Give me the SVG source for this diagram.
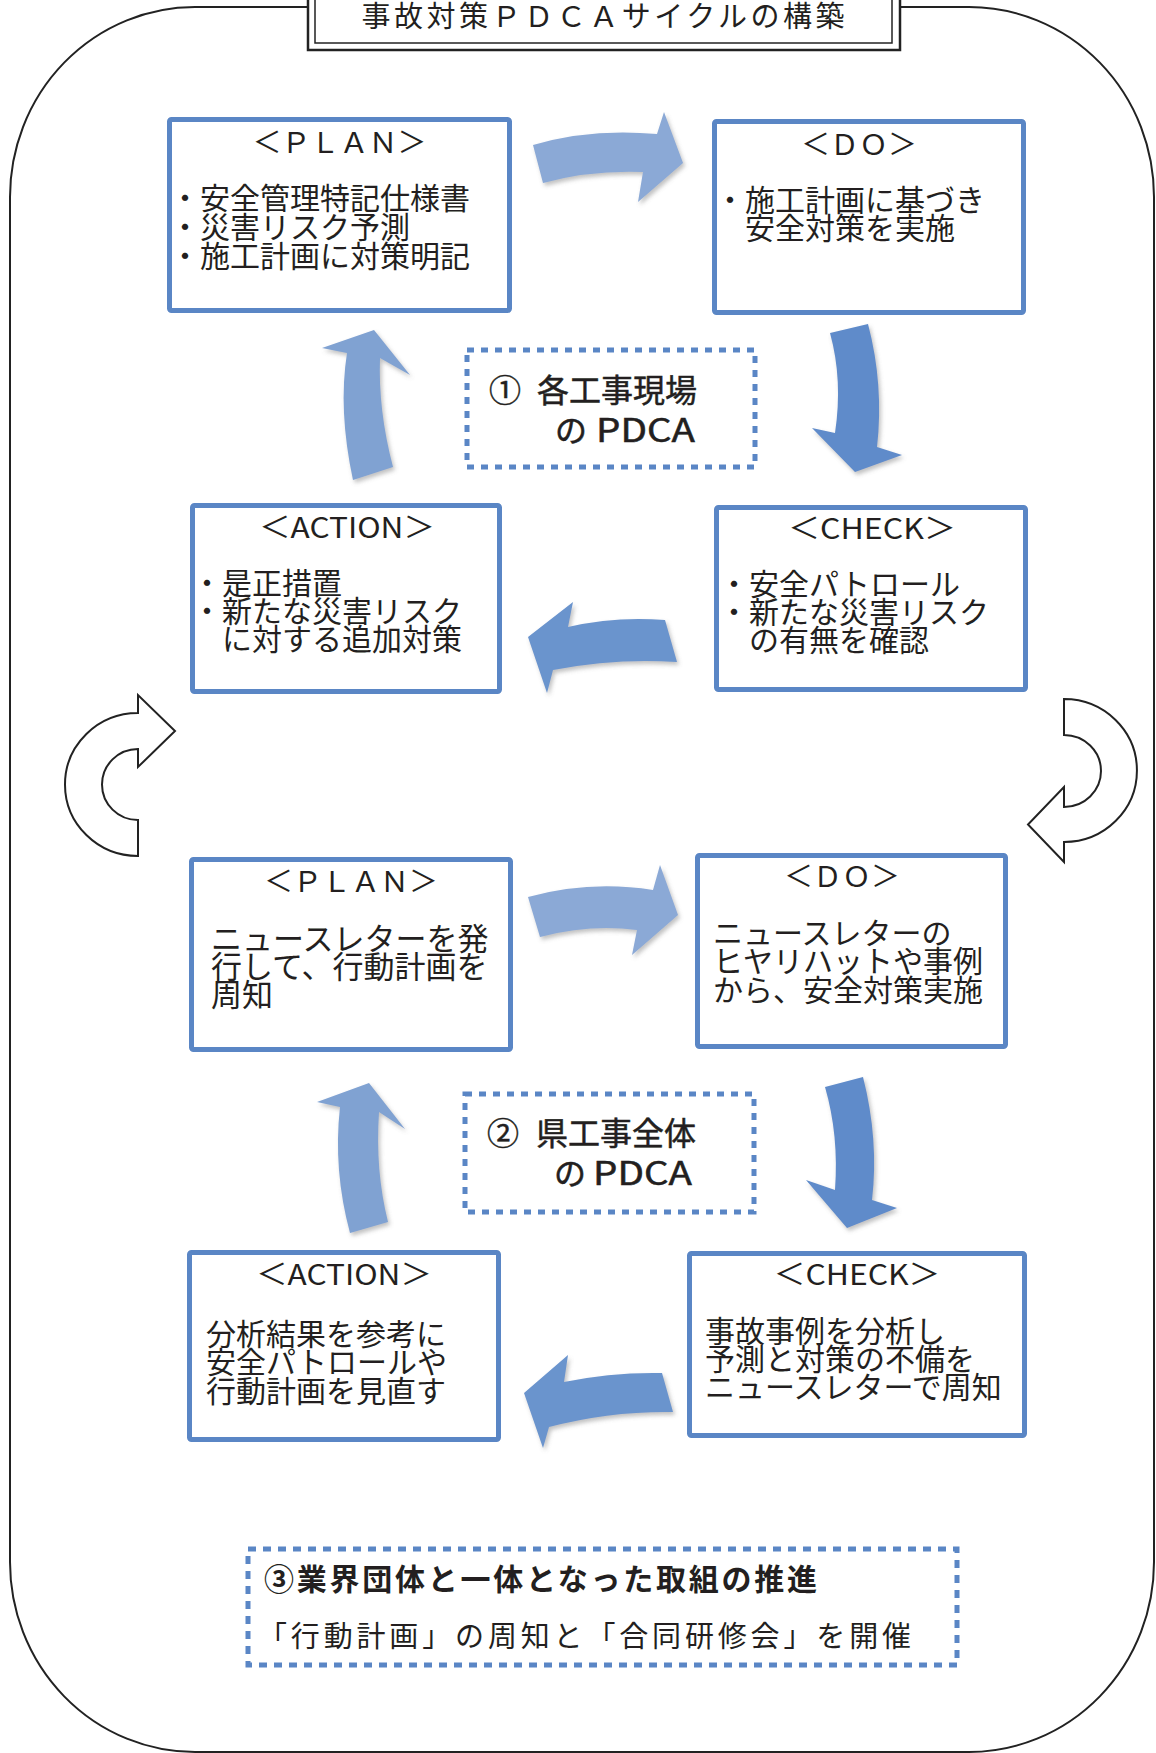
<svg xmlns="http://www.w3.org/2000/svg" width="1156" height="1753" viewBox="0 0 1156 1753">
<defs>
<style>
.box{fill:#fff;stroke:#5a86c5;stroke-width:5}
.dot{fill:none;stroke:#5a86c5;stroke-width:5;stroke-dasharray:7 7}
.dot3{fill:none;stroke:#5a86c5;stroke-width:5;stroke-dasharray:8 7}
.t{font-family:"Noto Sans CJK JP","Noto Sans CJK SC",sans-serif;fill:#231f20}
.h{font-size:29px;text-anchor:middle}
.b{font-size:30px}
.lbl{font-size:32px;stroke:#231f20;stroke-width:0.5}
.ca{stroke:#222;stroke-width:2;fill:#fff}
.a1{fill:#8ba9d6;filter:url(#sh)}
.a2{fill:#5f8bca;filter:url(#sh)}
.a3{fill:#6b94cd;filter:url(#sh)}
.a4{fill:#80a2d2;filter:url(#sh)}
</style>
<filter id="sh" x="-20%" y="-20%" width="140%" height="140%">
<feDropShadow dx="2" dy="3" stdDeviation="2" flood-color="#777" flood-opacity="0.45"/>
</filter>
</defs>
<rect width="1156" height="1753" fill="#fff"/>
<g id="frame">
<rect x="10" y="7" width="1144" height="1745" rx="185" ry="190" fill="none" stroke="#222" stroke-width="2"/>
</g>
<g id="title">
<rect x="308" y="-10" width="592" height="60" fill="#fff" stroke="#222" stroke-width="2.5"/>
<rect x="315" y="-10" width="577" height="53" fill="none" stroke="#222" stroke-width="1.5"/>
<text class="t" x="603" y="27" font-size="29" text-anchor="middle" textLength="483">事故対策ＰＤＣＡサイクルの構築</text>
</g>
<g id="connectors">
<path class="a1" d="M533,145 Q590,128 657,134 L664,112 L683,163 L638,202 L643,172 Q590,170 543,183 Z"/>
<path class="a2" d="M830,333 L868,324 Q884,385 877,447 L902,455 L855,472 L812,428 L835,433 Q843,380 830,333 Z"/>
<path class="a3" d="M665,620 Q615,616 568,627 L573,602 L528,637 L547,693 L553,670 Q615,658 677,662 Z"/>
<path class="a4" d="M353,480 Q338,410 347,353 L322,348 L374,330 L410,375 L380,358 Q378,410 393,467 Z"/>
<path class="ca" d="M138,856 A73,71.5 0 0 1 138,713 L138,695 L175,731 L138,767 L138,749 A36,35.5 0 0 0 138,820 Z"/>
<path class="ca" d="M1064,699 A73,71.5 0 0 1 1064,842 L1064,862 L1028,824.5 L1064,787 L1064,807 A37,36 0 0 0 1064,735 Z"/>
<path class="a1" d="M528,897 Q590,880 653,890 L660,865 L678,915 L632,955 L637,930 Q590,924 540,937 Z"/>
<path class="a2" d="M825,1087 L863,1077 Q879,1140 872,1200 L897,1208 L847,1228 L806,1180 L835,1190 Q839,1135 825,1087 Z"/>
<path class="a3" d="M662,1373 Q612,1372 564,1382 L568,1355 L524,1393 L543,1448 L549,1427 Q610,1411 673,1412 Z"/>
<path class="a4" d="M350,1233 Q333,1170 340,1107 L317,1102 L369,1083 L405,1129 L379,1112 Q375,1170 388,1222 Z"/>
</g>
<g id="plan1">
<rect class="box" x="169.5" y="119.5" width="340" height="191" rx="2"/>
<text class="t h" x="339.5" y="153">＜ＰＬＡＮ＞</text>
<text class="t b" x="170" y="209">・安全管理特記仕様書</text>
<text class="t b" x="170" y="238">・災害リスク予測</text>
<text class="t b" x="170" y="267">・施工計画に対策明記</text>
</g>
<g id="do1">
<rect class="box" x="714.5" y="121.5" width="309" height="191" rx="2"/>
<text class="t h" x="859" y="155">＜ＤＯ＞</text>
<text class="t b" x="715" y="211">・施工計画に基づき</text>
<text class="t b" x="745" y="239">安全対策を実施</text>
</g>
<g id="check1">
<rect class="box" x="716.5" y="507.5" width="309" height="182" rx="2"/>
<text class="t h" x="872" y="539" textLength="168" lengthAdjust="spacingAndGlyphs">＜CHECK＞</text>
<text class="t b" x="719" y="595">・安全パトロール</text>
<text class="t b" x="719" y="623">・新たな災害リスク</text>
<text class="t b" x="749" y="651">の有無を確認</text>
</g>
<g id="action1">
<rect class="box" x="192.5" y="505.5" width="307" height="186" rx="2"/>
<text class="t h" x="347" y="538" textLength="176" lengthAdjust="spacingAndGlyphs">＜ACTION＞</text>
<text class="t b" x="192" y="594">・是正措置</text>
<text class="t b" x="192" y="622">・新たな災害リスク</text>
<text class="t b" x="222" y="650">に対する追加対策</text>
</g>
<g id="label1">
<rect class="dot" x="467" y="350" width="288" height="117"/>
<text class="t lbl" x="489" y="402">①</text>
<text class="t lbl" x="537" y="402">各工事現場</text>
<text class="t lbl" x="555" y="442">の</text>
<text class="t lbl" x="596" y="442" textLength="99" lengthAdjust="spacingAndGlyphs">PDCA</text>
</g>
<g id="plan2">
<rect class="box" x="191.5" y="859.5" width="319" height="190" rx="2"/>
<text class="t h" x="351" y="892">＜ＰＬＡＮ＞</text>
<text class="t" font-size="31" x="211" y="950">ニュースレターを発</text>
<text class="t" font-size="31" x="211" y="978">行して、行動計画を</text>
<text class="t" font-size="31" x="211" y="1006">周知</text>
</g>
<g id="do2">
<rect class="box" x="697.5" y="855.5" width="308" height="191" rx="2"/>
<text class="t h" x="842" y="887">＜ＤＯ＞</text>
<text class="t b" x="713" y="944">ニュースレターの</text>
<text class="t b" x="713" y="972">ヒヤリハットや事例</text>
<text class="t b" x="713" y="1001">から、安全対策実施</text>
</g>
<g id="check2">
<rect class="box" x="689.5" y="1253.5" width="335" height="182" rx="2"/>
<text class="t h" x="857" y="1285" textLength="167" lengthAdjust="spacingAndGlyphs">＜CHECK＞</text>
<text class="t b" x="705" y="1342">事故事例を分析し</text>
<text class="t b" x="705" y="1370">予測と対策の不備を</text>
<text class="t b" x="705" y="1398">ニュースレターで周知</text>
</g>
<g id="action2">
<rect class="box" x="189.5" y="1252.5" width="309" height="187" rx="2"/>
<text class="t h" x="344" y="1285" textLength="176" lengthAdjust="spacingAndGlyphs">＜ACTION＞</text>
<text class="t b" x="206" y="1345">分析結果を参考に</text>
<text class="t b" x="206" y="1373">安全パトロールや</text>
<text class="t b" x="206" y="1402">行動計画を見直す</text>
</g>
<g id="label2">
<rect class="dot" x="465" y="1094" width="289" height="118"/>
<text class="t lbl" x="487" y="1145">②</text>
<text class="t lbl" x="536" y="1145">県工事全体</text>
<text class="t lbl" x="554" y="1185">の</text>
<text class="t lbl" x="593" y="1185" textLength="99" lengthAdjust="spacingAndGlyphs">PDCA</text>
</g>
<g id="label3">
<rect class="dot3" x="248" y="1549" width="709" height="116"/>
<text class="t" x="264" y="1590" font-size="30" font-weight="bold" textLength="553">③業界団体と一体となった取組の推進</text>
<text class="t" x="258" y="1647" font-size="29" textLength="653">「行動計画」の周知と「合同研修会」を開催</text>
</g>
</svg>
